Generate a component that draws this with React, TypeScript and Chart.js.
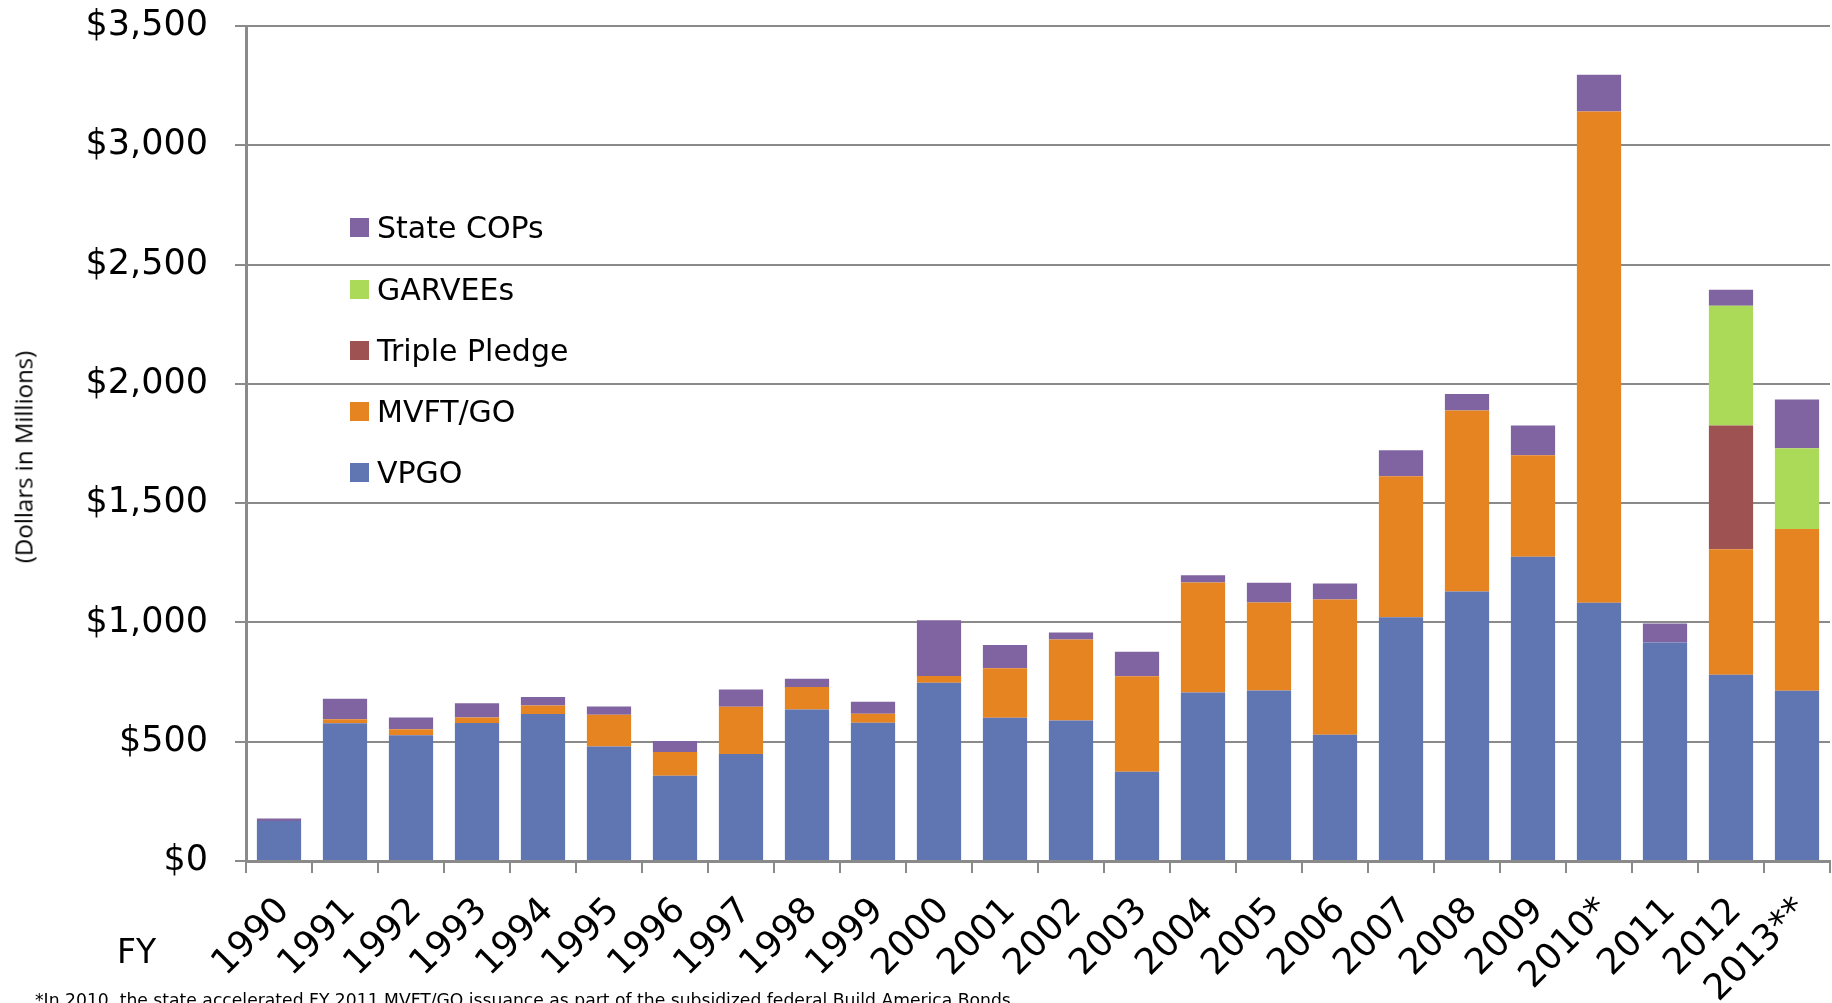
import React, { useEffect, useRef } from 'react';
import { Chart, registerables } from 'chart.js';

Chart.register(...registerables);

const YEARS = ['1990', '1991', '1992', '1993', '1994', '1995', '1996', '1997', '1998', '1999', '2000', '2001', '2002', '2003', '2004', '2005', '2006', '2007', '2008', '2009', '2010*', '2011', '2012', '2013**'];
const VPGO = [168, 577, 527, 578, 616, 480, 357, 448, 635, 580, 747, 600, 589, 374, 706, 715, 529, 1022, 1130, 1275, 1082, 916, 781, 714];
const MVFT_GO = [0, 17, 25, 24, 36, 133, 100, 199, 94, 37, 28, 208, 339, 400, 461, 369, 567, 591, 758, 426, 2060, 0, 526, 678];
const TRIPLE_PLEDGE = [0, 0, 0, 0, 0, 0, 0, 0, 0, 0, 0, 0, 0, 0, 0, 0, 0, 0, 0, 0, 0, 0, 518, 0];
const GARVEES = [0, 0, 0, 0, 0, 0, 0, 0, 0, 0, 0, 0, 0, 0, 0, 0, 0, 0, 0, 0, 0, 0, 502, 338];
const STATE_COPS = [10, 86, 50, 59, 35, 35, 46, 72, 35, 51, 234, 97, 30, 103, 31, 82, 67, 109, 70, 124, 154, 80, 67, 204];

const SERIES_NAMES = ['VPGO', 'MVFT/GO', 'Triple Pledge', 'GARVEEs', 'State COPs'];
const SERIES_VALUES = [VPGO, MVFT_GO, TRIPLE_PLEDGE, GARVEES, STATE_COPS];
const SERIES_COLORS = ['#5F76B3', '#E68421', '#9E5252', '#ABDA59', '#8064A1'];

const Y_MIN = 0;
const Y_MAX = 3500;
const Y_STEP = 500;

const Y_TITLE = '(Dollars in Millions)';
const X_TITLE = 'FY';
const FOOTNOTE = '*In 2010, the state accelerated FY 2011 MVFT/GO issuance as part of the subsidized federal Build America Bonds';

const FONT = '"DejaVu Sans", sans-serif';
const GRID = '#8a8a8a';

export default function App() {
  const ref = useRef<HTMLCanvasElement>(null);

  useEffect(() => {
    if (!ref.current) return;
    const chart = new Chart(ref.current, {
      type: 'bar',
      data: {
        labels: YEARS,
        datasets: SERIES_NAMES.map((name, i) => ({
          label: name,
          data: SERIES_VALUES[i],
          backgroundColor: SERIES_COLORS[i],
          borderWidth: 0,
          barPercentage: 0.67,
          categoryPercentage: 1,
        })),
      },
      options: {
        animation: false,
        responsive: false,
        devicePixelRatio: 1,
        layout: { padding: { top: 26, right: 2, left: 0, bottom: 0 } },
        plugins: { legend: { display: false }, tooltip: { enabled: false } },
        scales: {
          x: {
            stacked: true,
            grid: { offset: true, drawOnChartArea: false, drawTicks: true, tickLength: 12, color: GRID, lineWidth: 2 },
            border: { display: true, color: GRID, width: 3 },
            ticks: {
              autoSkip: false,
              minRotation: 45,
              maxRotation: 45,
              padding: 17,
              labelOffset: 5,
              color: '#000',
              font: { family: FONT, size: 36 },
            },
            afterFit: (s: any) => { s.height = 142; s.paddingLeft = 0; s.paddingRight = 0; },
          },
          y: {
            stacked: true,
            min: Y_MIN,
            max: Y_MAX,
            ticks: {
              stepSize: Y_STEP,
              padding: 27,
              color: '#000',
              font: { family: FONT, size: 35 },
              callback: (v: any) => '$' + Number(v).toLocaleString('en-US'),
            },
            grid: { color: GRID, lineWidth: 2, tickLength: 11 },
            border: { display: true, color: GRID, width: 3 },
            afterFit: (s: any) => { s.width = 246; s.paddingTop = 0; s.paddingBottom = 0; },
          },
        },
      },
    });
    return () => chart.destroy();
  }, []);

  const legendOrder = [4, 3, 2, 1, 0];
  const legendY = [227, 289, 350, 411, 472];

  return (
    <div style={{ position: 'absolute', left: 0, top: 0, width: 1832, height: 1003, overflow: 'hidden', background: '#fff' }}>
      <canvas ref={ref} width={1832} height={1003} style={{ position: 'absolute', left: 0, top: 0, width: 1832, height: 1003 }} />
      {legendOrder.map((si, k) => (
        <div key={si} style={{ position: 'absolute', left: 350, top: legendY[k] - 20, height: 40, display: 'flex', alignItems: 'center', fontFamily: FONT, fontSize: 30, color: '#000', whiteSpace: 'nowrap' }}>
          <span style={{ display: 'inline-block', width: 19, height: 19, background: SERIES_COLORS[si], marginRight: 8 }} />
          <span>{SERIES_NAMES[si]}</span>
        </div>
      ))}
      <div style={{ position: 'absolute', left: 23, top: 457, transform: 'translate(-50%, -50%) rotate(-90deg)', fontFamily: '"Open Sans", sans-serif', fontSize: 24, color: '#000', whiteSpace: 'nowrap' }}>{Y_TITLE}</div>
      <div style={{ position: 'absolute', left: 117, top: 932, fontFamily: FONT, fontSize: 33, lineHeight: '40px', color: '#000' }}>{X_TITLE}</div>
      <div style={{ position: 'absolute', left: 35, top: 992, fontFamily: FONT, fontSize: 17.2, lineHeight: '17px', color: '#000', whiteSpace: 'nowrap' }}>{FOOTNOTE}</div>
    </div>
  );
}
